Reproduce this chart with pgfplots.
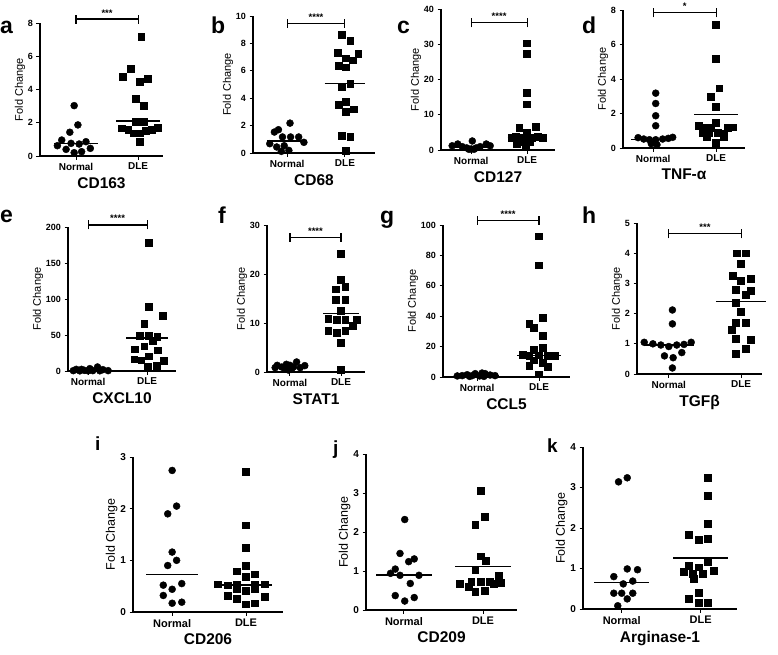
\documentclass[border=0pt]{standalone}
\usepackage{fontspec}
\setmainfont{Liberation Sans}
\usepackage{pgfplots}
\pgfplotsset{compat=1.18}

\pgfplotsset{
  pan/.style={scale only axis, anchor=south west, clip=false,
    axis x line*=bottom, axis y line*=left,
    axis line style={line width=1.2pt,-},
    xtick={1,2}, xticklabels={Normal,DLE},
    tick style={line width=1pt,black}, tick align=outside, major tick length=3.5pt,
    ylabel={Fold Change}, ymin=0, ylabel shift=-4pt,
    /pgf/number format/assume math mode=true,
    yticklabel style={font=\bfseries\fontsize{9}{9}\selectfont},
    xticklabel style={font=\bfseries\fontsize{10}{10}\selectfont},
    ylabel style={font=\fontsize{11}{11}\selectfont},
    xlabel style={font=\bfseries\fontsize{15.5}{16}\selectfont},
  },
  big/.style={
    yticklabel style={font=\bfseries\fontsize{10}{10}\selectfont},
    xticklabel style={font=\bfseries\fontsize{11}{11}\selectfont},
    ylabel style={font=\fontsize{12.5}{13}\selectfont},
    xlabel style={font=\bfseries\fontsize{15.5}{16}\selectfont}},
  nrm/.style={only marks, mark=*, mark size=3.5pt, black},
  dle/.style={only marks, mark=square*, mark size=3.4pt, black},
  medl/.style={black, line width=1.3pt, no marks},
}
\newcommand{\med}[2]{%
  \addplot[medl] coordinates {(0.65,#1) (1.35,#1)};
  \addplot[medl] coordinates {(1.65,#2) (2.35,#2)};}
\newcommand{\sig}[2]{%
  \draw[line width=1.1pt] (axis cs:1,#1) -- (axis cs:2,#1);
  \draw[line width=1.1pt] ([yshift=-4.5pt]axis cs:1,#1) -- ([yshift=4.5pt]axis cs:1,#1);
  \draw[line width=1.1pt] ([yshift=-4.5pt]axis cs:2,#1) -- ([yshift=4.5pt]axis cs:2,#1);
  \node[anchor=base, inner sep=0, font=\bfseries\fontsize{9.5}{9.5}\selectfont] at ([yshift=3pt]axis cs:1.5,#1) {#2};}
\newcommand{\plab}[4]{\node[anchor=base west, inner sep=0, font=\bfseries\fontsize{#4}{#4}\selectfont] at (#1pt,-#2pt) {#3};}

\begin{document}
\begin{tikzpicture}
\useasboundingbox (0pt,0pt) rectangle (778pt,-654pt);

% a CD163
\begin{axis}[pan, at={(40pt,-156pt)}, width=123pt, height=133pt,
  xmin=0.42, xmax=2.4, ymax=8, ytick={0,2,...,8}, xlabel={CD163}]
\addplot[nrm] coordinates {(0.97,3.03) (1.03,1.87) (0.90,1.43) (0.77,0.96) (0.92,0.76) (1.05,0.72) (1.16,0.86) (0.70,0.62) (0.84,0.40) (1.23,0.46) (0.97,0.20) (1.09,0.26)};
\addplot[dle] coordinates {(2.05,7.2) (1.88,5.23) (1.75,4.78) (2.03,4.46) (2.16,4.66) (1.96,3.44) (2.09,3.03) (1.96,2.07) (2.09,2.07) (1.74,1.67) (1.84,1.57) (1.93,1.37) (2.03,1.37) (2.12,1.51) (2.22,1.57) (2.32,1.71) (2.03,0.84)};
\med{0.76}{2.11}
\sig{8.24}{***}
\end{axis}

% b CD68
\begin{axis}[pan, at={(253pt,-153pt)}, width=122pt, height=137pt,
  xmin=0.41, xmax=2.52, ymax=10, ytick={0,2,...,10}, xlabel={CD68}]
\addplot[nrm] coordinates {(1.05,2.18) (0.85,1.70) (0.78,1.53) (0.92,1.17) (1.06,1.17) (1.20,1.17) (0.70,0.68) (1.29,0.78) (0.82,0.44) (0.95,0.53) (1.03,0.19) (0.90,0.12)};
\addplot[dle] coordinates {(1.94,8.62) (2.09,8.2) (1.87,7.35) (2.02,6.92) (2.23,7.23) (2.14,6.77) (1.89,6.38) (2.02,6.26) (1.94,4.81) (2.09,5.05) (1.89,3.52) (2.02,3.76) (2.15,3.2) (2.02,3.01) (1.94,1.26) (2.09,1.21) (2.02,0.19)};
\med{0.87}{5.05}
\sig{9.47}{****}
\end{axis}

% c CD127
\begin{axis}[pan, at={(441pt,-150pt)}, width=114pt, height=141pt,
  xmin=0.46, xmax=2.5, ymax=40, ytick={0,10,...,40}, xlabel={CD127}]
\addplot[nrm] coordinates {(1.02,2.56) (0.76,1.7) (1.27,1.7) (0.66,1.2) (1.34,1.2) (0.84,0.95) (1.16,0.95) (0.92,0.6) (1.09,0.6) (1.0,0.3) (0.96,0.2) (1.05,0.2)};
\addplot[dle] coordinates {(1.99,30.3) (1.99,27.3) (1.99,16.3) (1.99,13.0) (1.86,6.35) (2.15,6.6) (1.99,4.9) (1.80,3.8) (1.90,3.6) (2.09,3.6) (2.19,3.8) (2.28,3.5) (1.72,3.5) (1.93,2.4) (2.05,2.4) (1.81,1.9) (1.98,1.4)};
\med{0.85}{3.6}
\sig{36.1}{****}
\end{axis}

% d TNF-alpha
\begin{axis}[pan, at={(623pt,-148pt)}, width=122pt, height=138pt,
  xmin=0.52, xmax=2.46, ymax=8, ytick={0,2,...,8}, xlabel={TNF-α}]
\addplot[nrm] coordinates {(1.04,3.18) (1.04,2.58) (1.04,1.87) (1.04,1.29) (0.76,0.6) (0.85,0.52) (0.94,0.48) (1.04,0.48) (1.15,0.52) (1.24,0.56) (1.31,0.62) (0.97,0.25) (1.06,0.19)};
\addplot[dle] coordinates {(1.99,7.13) (1.99,5.2) (2.05,3.47) (1.92,2.99) (1.99,2.41) (1.99,1.45) (1.72,1.29) (1.82,1.21) (1.91,1.16) (2.18,1.16) (2.27,1.21) (1.78,0.91) (1.88,0.87) (2.02,0.87) (2.12,0.83) (1.85,0.67) (2.12,0.64) (1.99,0.29)};
\med{0.5}{1.93}
\sig{7.84}{*}
\end{axis}

% e CXCL10
\begin{axis}[pan, at={(68pt,-371pt)}, width=108pt, height=144pt,
  xmin=0.66, xmax=2.49, ymax=200, ytick={0,50,...,200}, xlabel={CXCL10}]
\addplot[nrm] coordinates {(1.16,5.6) (0.80,2.3) (0.89,2.3) (1.03,3.3) (1.25,1.9) (0.94,0.9) (1.08,0.5) (0.75,0.5) (1.34,0.5) (0.86,0.2) (1.0,0.2) (1.2,0.3)};
\addplot[dle] coordinates {(2.03,178.6) (2.03,89.3) (2.26,76.3) (1.95,66.0) (1.88,48.8) (2.03,48.8) (2.17,47.4) (2.10,41.4) (1.95,34.4) (1.79,30.2) (2.18,28.8) (2.03,20.5) (1.78,16.3) (1.90,14.9) (2.28,14.0) (2.01,6.5) (2.16,7.9)};
\med{1}{46}
\sig{202.8}{****}
\end{axis}

% f STAT1
\begin{axis}[pan, at={(267pt,-372pt)}, width=98pt, height=147pt,
  xmin=0.55, xmax=2.47, ymax=30, ytick={0,10,...,30}, xlabel={STAT1}]
\addplot[nrm] coordinates {(1.13,2.05) (0.75,1.36) (0.93,1.57) (1.0,1.36) (0.84,1.02) (1.07,1.02) (1.29,1.3) (0.71,0.89) (1.2,0.89) (0.9,0.6) (1.03,0.55) (0.97,0.4)};
\addplot[dle] coordinates {(2.0,24.2) (2.0,18.9) (1.9,16.9) (2.08,17.4) (1.9,14.8) (2.08,14.7) (2.0,12.5) (1.75,10.9) (1.92,10.6) (2.08,10.6) (2.31,10.7) (2.23,9.5) (1.75,8.4) (1.92,8.0) (2.08,8.4) (2.0,6.0) (2.0,0.5)};
\med{0.95}{11.9}
\sig{27.5}{****}
\end{axis}

% g CCL5
\begin{axis}[pan, at={(443pt,-377pt)}, width=127pt, height=152pt,
  xmin=0.45, xmax=2.5, ymax=100, ytick={0,20,...,100}, xlabel={CCL5}]
\addplot[nrm] coordinates {(1.08,2.6) (0.97,2.2) (1.13,2.2) (0.84,1.5) (0.76,0.9) (0.92,0.9) (1.21,1.3) (1.29,0.9) (0.68,0.7) (1.04,0.7) (0.88,0.4) (1.11,0.4)};
\addplot[dle] coordinates {(2.0,92.7) (2.0,73.6) (2.06,38.9) (1.84,35.2) (1.91,32.5) (2.06,27.3) (1.91,18.2) (2.06,19.3) (1.73,14.9) (1.84,13.8) (2.0,14.3) (2.14,13.8) (2.25,13.8) (1.91,11.0) (2.06,9.2) (1.84,7.3) (2.14,6.6) (2.0,1.8)};
\med{1}{14}
\sig{103}{****}
\end{axis}

% h TGF-beta
\begin{axis}[pan, at={(637pt,-374pt)}, width=125pt, height=151pt,
  xmin=0.56, xmax=2.29, ymax=5, ytick={0,1,...,5}, xlabel={TGFβ}]
\addplot[nrm] coordinates {(1.05,2.12) (1.05,1.66) (0.66,1.05) (0.78,1.0) (0.89,0.96) (1.0,0.91) (1.11,0.96) (1.21,0.98) (1.31,1.05) (0.94,0.6) (1.06,0.54) (1.18,0.71) (1.05,0.2)};
\addplot[dle] coordinates {(1.94,4.0) (2.06,4.0) (2.0,3.65) (1.88,3.26) (2.0,3.1) (2.13,3.15) (1.93,2.79) (2.13,2.77) (2.06,2.62) (1.93,2.37) (2.0,2.07) (1.93,1.7) (2.06,1.7) (1.87,1.48) (1.93,1.18) (2.13,1.13) (2.06,0.83) (1.93,0.66)};
\med{0.96}{2.4}
\sig{4.64}{***}
\end{axis}

% i CD206
\begin{axis}[pan, big, at={(133pt,-612pt)}, width=150pt, height=155pt,
  xmin=0.47, xmax=2.5, ymax=3, ytick={0,1,...,3}, xlabel={CD206}]
\addplot[nrm] coordinates {(1.0,2.74) (0.94,1.9) (1.06,2.05) (1.0,1.16) (0.94,0.9) (1.06,1.0) (0.88,0.52) (1.13,0.55) (1.0,0.44) (0.88,0.32) (1.0,0.17) (1.13,0.19)};
\addplot[dle] coordinates {(2.0,2.72) (2.0,1.68) (2.0,1.24) (2.0,0.9) (1.87,0.79) (2.0,0.68) (2.12,0.73) (1.62,0.54) (1.75,0.52) (1.87,0.54) (2.12,0.54) (2.25,0.54) (1.75,0.32) (1.87,0.44) (2.0,0.41) (2.12,0.45) (2.25,0.3) (1.87,0.26) (2.0,0.15) (2.12,0.17)};
\med{0.73}{0.52}
\end{axis}

% j CD209
\begin{axis}[pan, big, at={(366pt,-610pt)}, width=151pt, height=156pt,
  xmin=0.52, xmax=2.43, ymax=4, ytick={0,1,...,4}, xlabel={CD209}]
\addplot[nrm] coordinates {(1.01,2.32) (0.95,1.45) (1.06,1.24) (1.13,1.31) (0.89,1.05) (0.83,0.94) (0.95,0.89) (1.08,0.68) (1.19,0.89) (0.89,0.37) (1.01,0.23) (1.13,0.32)};
\addplot[dle] coordinates {(1.97,3.05) (2.02,2.39) (1.9,2.18) (1.97,1.38) (2.03,1.26) (1.9,1.04) (2.2,0.88) (1.71,0.68) (1.82,0.6) (1.97,0.73) (2.08,0.73) (2.23,0.7) (1.9,0.47) (2.02,0.49) (1.85,0.72) (2.14,0.68)};
\med{0.9}{1.11}
\end{axis}

% k Arginase-1
\begin{axis}[pan, big, at={(583pt,-609pt)}, width=154pt, height=162pt,
  xmin=0.51, xmax=2.46, ymax=4, ytick={0,1,...,4}, xlabel={Arginase-1}]
\addplot[nrm] coordinates {(0.96,3.14) (1.07,3.24) (1.07,0.99) (1.2,0.97) (0.9,0.8) (1.02,0.62) (1.14,0.69) (0.9,0.39) (1.0,0.39) (1.14,0.39) (1.07,0.25) (0.95,0.08)};
\addplot[dle] coordinates {(2.09,3.24) (2.09,2.79) (2.09,2.1) (1.85,1.83) (1.97,1.71) (2.09,1.74) (2.09,1.17) (1.85,1.07) (1.97,1.03) (1.79,0.93) (1.9,0.88) (2.03,0.88) (2.16,0.94) (1.91,0.74) (1.97,0.4) (1.85,0.26) (1.97,0.16) (2.09,0.16)};
\med{0.66}{1.26}
\end{axis}

\plab{0}{33}{a}{23}
\plab{211}{33}{b}{23}
\plab{397}{33}{c}{23}
\plab{582}{33}{d}{23}
\plab{0}{222}{e}{23}
\plab{218}{223}{f}{23}
\plab{380}{223}{g}{23}
\plab{582}{223}{h}{23}
\plab{95}{450}{i}{19}
\plab{333}{454}{j}{19}
\plab{547}{452}{k}{19}
\end{tikzpicture}
\end{document}
